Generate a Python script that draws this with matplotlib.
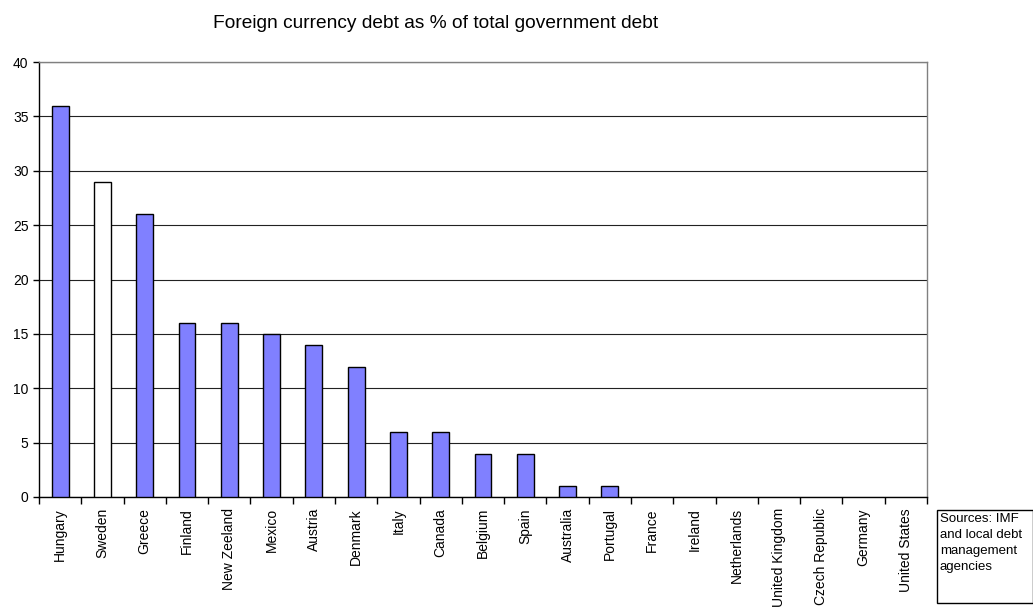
import matplotlib
matplotlib.use("Agg")
import matplotlib.pyplot as plt
import numpy as np

plt.rcParams['font.family'] = ['Liberation Sans', 'DejaVu Sans']

countries = ["Hungary", "Sweden", "Greece", "Finland", "New Zeeland", "Mexico",
             "Austria", "Denmark", "Italy", "Canada", "Belgium", "Spain",
             "Australia", "Portugal", "France", "Ireland", "Netherlands",
             "United Kingdom", "Czech Republic", "Germany", "United States"]
values = [36, 29, 26, 16, 16, 15, 14, 12, 6, 6, 4, 4, 1, 1, 0, 0, 0, 0, 0, 0, 0]
highlight = ["Sweden"]

fig = plt.figure(figsize=(10.33, 6.07), dpi=100)
ax = fig.add_axes([39/1033, 1-497/607, (927-39)/1033, (497-62)/607])

x = np.arange(len(countries))
colors = ["white" if c in highlight else "#8080ff" for c in countries]
lws = [1.0 if v > 0 else 0.0 for v in values]
ax.bar(x, values, width=0.4, color=colors, edgecolor="black", linewidth=lws, zorder=3)

ax.set_xlim(-0.5, len(countries) - 0.5)
ax.set_ylim(0, 40)
ax.set_yticks(range(0, 41, 5))
ax.yaxis.grid(True, color="#222222", linewidth=0.8, zorder=0)
ax.set_axisbelow(True)

ax.set_xticks(x)
ax.set_xticklabels(countries, rotation=90, fontsize=10)
ax.tick_params(axis='x', which='major', length=0, pad=8)
ax.set_xticks(np.arange(-0.5, len(countries)), minor=True)
ax.tick_params(axis='x', which='minor', length=5, direction='out', width=1)
ax.tick_params(axis='y', labelsize=10, length=4, direction='out', width=1)

for s in ["top", "right"]:
    ax.spines[s].set_color("#808080")
    ax.spines[s].set_linewidth(1)
for s in ["left", "bottom"]:
    ax.spines[s].set_color("black")
    ax.spines[s].set_linewidth(1)

fig.text(436/1033, 1-24/607, "Foreign currency debt as % of total government debt",
         ha="center", va="center", fontsize=13.8)

fig.text(940/1033, 1-513/607, "Sources: IMF\nand local debt\nmanagement\nagencies",
         ha="left", va="top", fontsize=9.5, linespacing=1.45)
rect = plt.Rectangle((937/1033, 1-603/607), (1033-937)/1033, (603-510)/607,
                     transform=fig.transFigure, fill=False, edgecolor="black",
                     linewidth=1)
fig.add_artist(rect)

fig.savefig("out.png", dpi=100)
